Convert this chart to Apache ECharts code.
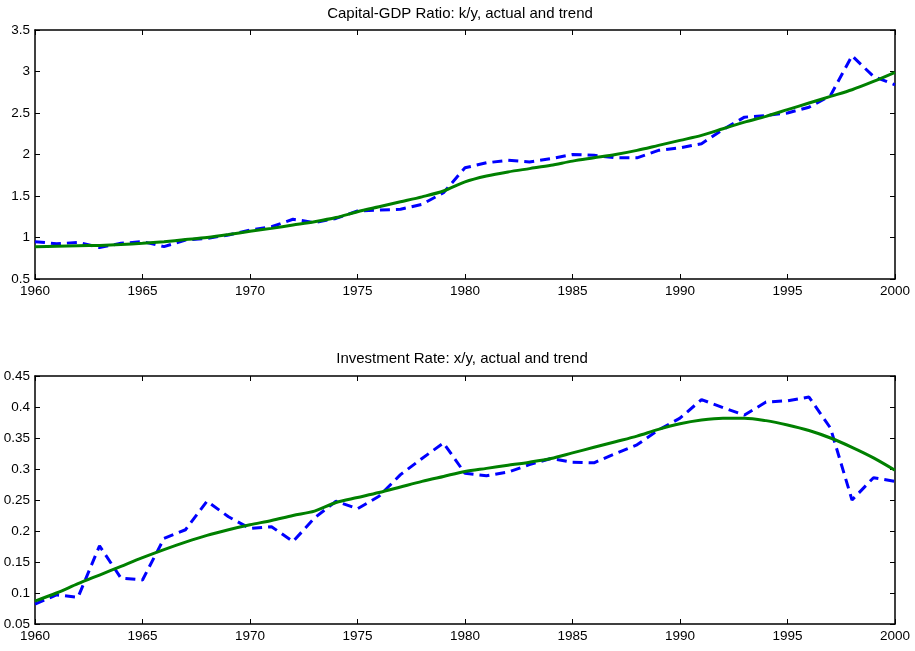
<!DOCTYPE html>
<html>
<head>
<meta charset="utf-8">
<script src="https://cdn.jsdelivr.net/npm/echarts@6/dist/echarts.min.js"></script>
<style>
  html, body { margin: 0; padding: 0; background: #fff; }
  #chart { width: 915px; height: 651px; }
</style>
</head>
<body>
<div id="chart"></div>
<script>
// Years 1960..2000
const years = [];
for (let y = 1960; y <= 2000; y++) years.push(y);

// Capital-GDP ratio k/y
const kyActual = [0.95, 0.925, 0.94, 0.88, 0.93, 0.95, 0.89, 0.97, 0.99, 1.03,
  1.09, 1.13, 1.22, 1.18, 1.23, 1.32, 1.33, 1.34, 1.40, 1.54,
  1.84, 1.90, 1.93, 1.91, 1.95, 2.00, 1.99, 1.96, 1.96, 2.05,
  2.08, 2.13, 2.30, 2.45, 2.47, 2.50, 2.57, 2.71, 3.19, 2.94, 2.84];
const kyTrend = [0.89, 0.895, 0.90, 0.905, 0.915, 0.93, 0.95, 0.975, 1.00, 1.035,
  1.075, 1.11, 1.15, 1.19, 1.24, 1.31, 1.37, 1.43, 1.49, 1.56,
  1.67, 1.74, 1.79, 1.83, 1.87, 1.92, 1.96, 2.00, 2.05, 2.11,
  2.17, 2.23, 2.31, 2.39, 2.46, 2.54, 2.62, 2.70, 2.78, 2.88, 2.99];

// Investment rate x/y
const xyActual = [0.082, 0.097, 0.093, 0.176, 0.124, 0.121, 0.188, 0.202, 0.248, 0.223,
  0.204, 0.207, 0.183, 0.221, 0.248, 0.236, 0.256, 0.291, 0.317, 0.342,
  0.293, 0.289, 0.295, 0.307, 0.317, 0.311, 0.310, 0.325, 0.339, 0.363,
  0.382, 0.412, 0.399, 0.387, 0.408, 0.410, 0.416, 0.366, 0.250, 0.286, 0.280];
const xyTrend = [0.087, 0.100, 0.115, 0.129, 0.143, 0.157, 0.170, 0.182, 0.193, 0.202,
  0.210, 0.217, 0.225, 0.232, 0.246, 0.254, 0.262, 0.271, 0.280, 0.288,
  0.296, 0.301, 0.306, 0.311, 0.317, 0.326, 0.335, 0.344, 0.353, 0.364,
  0.373, 0.379, 0.382, 0.382, 0.378, 0.371, 0.362, 0.350, 0.335, 0.318, 0.298];

const titles = ['Capital-GDP Ratio: k/y, actual and trend', 'Investment Rate: x/y, actual and trend'];

const pairs = arr => arr.map((v, i) => [years[i], v]);
const FONT = '"Liberation Sans", Arial, sans-serif';
const TICK_FONT = 13.5;

function xAxes(gi) {
  const base = {
    type: 'value', gridIndex: gi, min: 1960, max: 2000, interval: 5,
    axisLine: { show: true, onZero: false, lineStyle: { color: '#000', width: 1.5 } },
    axisTick: { show: true, inside: true, length: 5, lineStyle: { color: '#000' } },
    splitLine: { show: false }
  };
  return [
    Object.assign({}, base, { position: 'bottom',
      axisLabel: { color: '#000', fontSize: TICK_FONT, fontFamily: FONT, margin: 5,
        formatter: v => String(v) } }),
    Object.assign({}, base, { position: 'top', axisLabel: { show: false } })
  ];
}
function yAxes(gi, min, max, interval) {
  const base = {
    type: 'value', gridIndex: gi, min, max, interval,
    axisLine: { show: true, onZero: false, lineStyle: { color: '#000', width: 1.5 } },
    axisTick: { show: true, inside: true, length: 5, lineStyle: { color: '#000' } },
    splitLine: { show: false }
  };
  return [
    Object.assign({}, base, { position: 'left',
      axisLabel: { color: '#000', fontSize: TICK_FONT, fontFamily: FONT, margin: 5,
        formatter: v => String(parseFloat(v.toFixed(2))) } }),
    Object.assign({}, base, { position: 'right', axisLabel: { show: false } })
  ];
}

const actualStyle = { color: '#0000ff', width: 3, type: [10, 6] };
const trendStyle = { color: '#008000', width: 3, type: 'solid' };

const titleStyle = { fontSize: 15, fontWeight: 'normal', color: '#000', fontFamily: FONT };

const option = {
  animation: false,
  backgroundColor: '#fff',
  title: [
    { text: titles[0], left: 460, top: 6, padding: 0, textAlign: 'center', textStyle: titleStyle },
    { text: titles[1], left: 462, top: 351, padding: 0, textAlign: 'center', textStyle: titleStyle }
  ],
  grid: [
    { left: 35, right: 20, top: 30, height: 249 },
    { left: 35, right: 20, top: 376, height: 248 }
  ],
  xAxis: [...xAxes(0), ...xAxes(1)],
  yAxis: [...yAxes(0, 0.5, 3.5, 0.5), ...yAxes(1, 0.05, 0.45, 0.05)],
  series: [
    { type: 'line', xAxisIndex: 0, yAxisIndex: 0, data: pairs(kyActual), showSymbol: false,
      lineStyle: actualStyle, z: 2 },
    { type: 'line', xAxisIndex: 0, yAxisIndex: 0, data: pairs(kyTrend), showSymbol: false,
      smooth: 0.3, lineStyle: trendStyle, z: 3 },
    { type: 'line', xAxisIndex: 2, yAxisIndex: 2, data: pairs(xyActual), showSymbol: false,
      lineStyle: actualStyle, z: 2 },
    { type: 'line', xAxisIndex: 2, yAxisIndex: 2, data: pairs(xyTrend), showSymbol: false,
      smooth: 0.3, lineStyle: trendStyle, z: 3 }
  ]
};

echarts.init(document.getElementById('chart'), null, { renderer: 'canvas' }).setOption(option);
</script>
</body>
</html>
